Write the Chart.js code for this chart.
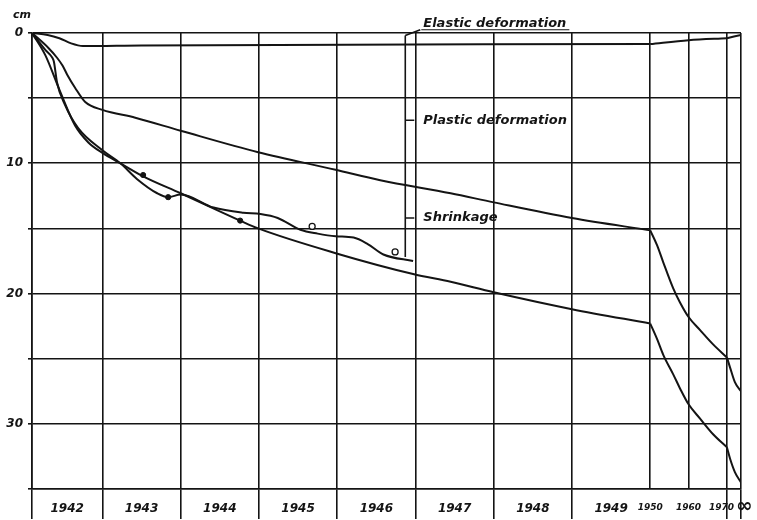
<!DOCTYPE html>
<html>
<head>
<meta charset="utf-8">
<script src="https://cdn.jsdelivr.net/npm/chart.js@4.4.1/dist/chart.umd.min.js"></script>
<style>
    html, body { margin: 0; padding: 0; background: #fff; }
</style>
</head>
<body>
<canvas id="settlement_chart" width="757" height="520"></canvas>
<script>
// settlement in cm (Infinity = final value)
const elasticYears = [1942.1, 1942.3, 1942.45, 1942.6, 1942.75, 1943.5, 1950, 1960, 1970, Infinity];
const elasticCm = [0, 0.15, 0.4, 0.8, 1.0, 0.95, 0.85, 0.55, 0.4, 0.15];

const plasticYears = [1942.1, 1942.31, 1942.42, 1942.49, 1942.55, 1942.65, 1942.78, 1943.0, 1943.42, 1944.0, 1944.99, 1945.98, 1946.55, 1947.45, 1948, 1949, 1950,
    1951.8, 1953.4, 1956, 1957.8, 1960, 1963, 1966.4, 1970, 1973, 1983, Infinity];
const plasticCm = [0, 1.15, 1.9, 2.5, 3.2, 4.2, 5.3, 5.9, 6.5, 7.5, 9.15, 10.5, 11.3, 12.3, 13.0, 14.2, 15.15,
    16.3, 17.6, 19.6, 20.7, 21.8, 22.8, 23.9, 24.9, 25.7, 26.8, 27.5];

const totalYears = [1942.1, 1942.27, 1942.46, 1942.65, 1942.82, 1943.0, 1943.23, 1943.52, 1944.0, 1944.76, 1944.99, 1945.98, 1946.97, 1947.45, 1948, 1949, 1950,
    1951.8, 1953.4, 1956, 1957.8, 1960, 1963, 1966.4, 1970, 1973, 1983, Infinity];
const totalCm = [0, 1.7, 4.5, 7.1, 8.4, 9.2, 10.0, 11.0, 12.3, 14.4, 15.0, 16.9, 18.5, 19.1, 19.9, 21.2, 22.3,
    23.5, 24.7, 26.2, 27.3, 28.5, 29.6, 30.8, 31.8, 32.7, 33.7, 34.5];

const measuredYears = [1942.1, 1942.27, 1942.36, 1942.38, 1942.42, 1942.52, 1942.69, 1943.0, 1943.23, 1943.44, 1943.7, 1943.84, 1944.0, 1944.42, 1944.8,
    1945.02, 1945.24, 1945.53, 1945.75, 1945.98, 1946.21, 1946.39, 1946.59, 1946.97];
const measuredCm = [0, 1.3, 1.9, 2.2, 3.8, 5.5, 7.3, 9.0, 10.0, 11.2, 12.3, 12.6, 12.4, 13.4, 13.8,
    13.9, 14.2, 15.1, 15.4, 15.6, 15.7, 16.2, 17.0, 17.5];

const dotYears = [1943.52, 1943.84, 1944.76];
const dotCm = [10.9, 12.6, 14.4];
const ringYears = [1945.68, 1946.74];
const ringCm = [14.85, 16.8];

const gridYears = [1942.1, 1943, 1944, 1945, 1946, 1947, 1948, 1949, 1950, 1960, 1970, Infinity];
const yearLabels = ["1942", "1943", "1944", "1945", "1946", "1947", "1948", "1949"];
const decadeLabels = ["1950", "1960", "1970"];
const decadeLabelYears = [1950, 1960, 1968.6];
const breakYears = [1950, 1970];

const bracketYear = 1946.87;
const bracketBottomCm = 17.2;
const partLabels = ["Elastic deformation", "Plastic deformation", "Shrinkage"];
const partLabelCm = [-0.75, 6.7, 14.2];

const ink = "#141414";
const handFont = { family: "DejaVu Sans", size: 12, style: "italic", weight: "bold" };

// year -> position on the drawn time axis (one unit per year up to 1950, then squeezed)
const toAxis = (year) => {
    if (year <= 1950) return year - 1942;
    if (year <= 1970) return 8 + (year - 1950) * 0.049;
    if (year === Infinity) return 9.16;
    return 8.98 + 0.18 * (1 - 10 / (year - 1960));
};

const points = (years, cm) => years.map((yr, i) => ({ x: toAxis(yr), y: cm[i] }));

// one dataset per stretch between break years, so the corners stay sharp
const pieces = (years, cm) => {
    const edges = [-Infinity, ...breakYears, Infinity];
    const out = [];
    for (let k = 0; k < edges.length - 1; k++) {
        const idx = years.map((yr, i) => i).filter((i) => years[i] >= edges[k] && years[i] <= edges[k + 1]);
        if (idx.length > 1) out.push(points(idx.map((i) => years[i]), idx.map((i) => cm[i])));
    }
    return out;
};

const curve = (data) => ({
    data: data,
    showLine: true,
    borderColor: ink,
    borderWidth: 2,
    pointRadius: 0,
    cubicInterpolationMode: "monotone",
});

const xTicks = [];
gridYears.forEach((yr) => {
    xTicks.push({ value: toAxis(yr), text: "", line: true, down: yr < 1950 || yr >= 1970, small: false });
});
yearLabels.forEach((label, i) => {
    const mid = (gridYears[i] + gridYears[i + 1]) / 2;
    xTicks.push({ value: toAxis(mid), text: label, line: false, down: false, small: false });
});
decadeLabels.forEach((label, i) => {
    xTicks.push({ value: toAxis(decadeLabelYears[i]) + 0.0001, text: label, line: false, down: false, small: true });
});
xTicks.sort((a, b) => a.value - b.value);

const tickFont = (ctx) => {
    const t = ctx.tick;
    if (t && t.small) return { ...handFont, size: 9 };
    return handFont;
};

const partLabelPlugin = {
    id: "partLabels",
    afterDraw(chart) {
        const { ctx } = chart;
        const { x, y } = chart.scales;
        const bx = x.getPixelForValue(toAxis(bracketYear));
        const tx = x.getPixelForValue(toAxis(1947.1));
        ctx.save();
        ctx.strokeStyle = ink;
        ctx.fillStyle = ink;
        ctx.lineWidth = 1.6;
        ctx.beginPath();
        ctx.moveTo(bx, y.getPixelForValue(0.2));
        ctx.lineTo(bx, y.getPixelForValue(bracketBottomCm));
        partLabelCm.slice(1).forEach((cm) => {
            ctx.moveTo(bx, y.getPixelForValue(cm));
            ctx.lineTo(bx + 9, y.getPixelForValue(cm));
        });
        ctx.moveTo(bx, y.getPixelForValue(0.2));
        ctx.lineTo(tx - 3, y.getPixelForValue(-0.25));
        ctx.stroke();

        ctx.font = "italic bold 13px 'DejaVu Sans'";
        ctx.textBaseline = "middle";
        partLabels.forEach((label, i) => {
            ctx.fillText(label, tx, y.getPixelForValue(partLabelCm[i]));
        });
        const w = ctx.measureText(partLabels[0]).width;
        ctx.lineWidth = 1.2;
        ctx.beginPath();
        ctx.moveTo(tx - 2, y.getPixelForValue(-0.25));
        ctx.lineTo(tx + w + 3, y.getPixelForValue(-0.25));
        ctx.stroke();

        ctx.font = "italic bold 11px 'DejaVu Sans'";
        ctx.textAlign = "center";
        ctx.fillText("cm", chart.chartArea.left - 10, y.getPixelForValue(-1.4));

        // the infinity mark at the end of the time axis
        ctx.font = "bold 20px 'DejaVu Sans'";
        ctx.textAlign = "left";
        ctx.fillText("∞", x.getPixelForValue(toAxis(Infinity)) - 5, chart.chartArea.bottom + 18);
        ctx.restore();
    },
};

const createChart = () => {
    const ctx = document.querySelector("#settlement_chart");
    const lines = [
        ...pieces(elasticYears, elasticCm),
        ...pieces(plasticYears, plasticCm),
        ...pieces(totalYears, totalCm),
        ...pieces(measuredYears, measuredCm),
    ].map(curve);
    return new Chart(ctx, {
        type: "scatter",
        data: {
            datasets: [
                ...lines,
                {
                    data: points(dotYears, dotCm),
                    pointRadius: 2.6,
                    backgroundColor: ink,
                    borderColor: ink,
                },
                {
                    data: points(ringYears, ringCm),
                    pointRadius: 3,
                    backgroundColor: "#fff",
                    borderColor: ink,
                    borderWidth: 1.3,
                },
            ],
        },
        options: {
            responsive: false,
            animation: false,
            devicePixelRatio: 1,
            layout: { padding: { top: 33, right: 16, bottom: 0, left: 0 } },
            plugins: { legend: { display: false }, tooltip: { enabled: false } },
            scales: {
                x: {
                    type: "linear",
                    min: toAxis(1942.1),
                    max: toAxis(Infinity),
                    border: { display: true, color: ink, width: 1.6 },
                    grid: {
                        color: (c) => (c.tick && c.tick.line ? ink : "transparent"),
                        tickColor: (c) => (c.tick && c.tick.down ? ink : "transparent"),
                        lineWidth: 1.6,
                        tickLength: 30,
                    },
                    ticks: {
                        autoSkip: false,
                        maxRotation: 0,
                        minRotation: 0,
                        padding: -17,
                        color: ink,
                        font: tickFont,
                        callback: (v, i, ticks) => ticks[i].text,
                    },
                    afterBuildTicks: (scale) => {
                        scale.ticks = xTicks.map((t) => ({ ...t }));
                    },
                    afterFit: (scale) => {
                        scale.height = 31;
                    },
                },
                y: {
                    type: "linear",
                    reverse: true,
                    min: 0,
                    max: 35,
                    border: { display: true, color: ink, width: 1.6 },
                    grid: { color: ink, lineWidth: 1.6, tickLength: 4, tickColor: ink },
                    ticks: {
                        stepSize: 5,
                        padding: 5,
                        color: ink,
                        font: handFont,
                        callback: (v) => (v % 10 === 0 ? String(v) : ""),
                    },
                    afterFit: (scale) => {
                        scale.width = 32;
                    },
                },
            },
        },
        plugins: [partLabelPlugin],
    });
};

createChart();
</script>
</body>
</html>
